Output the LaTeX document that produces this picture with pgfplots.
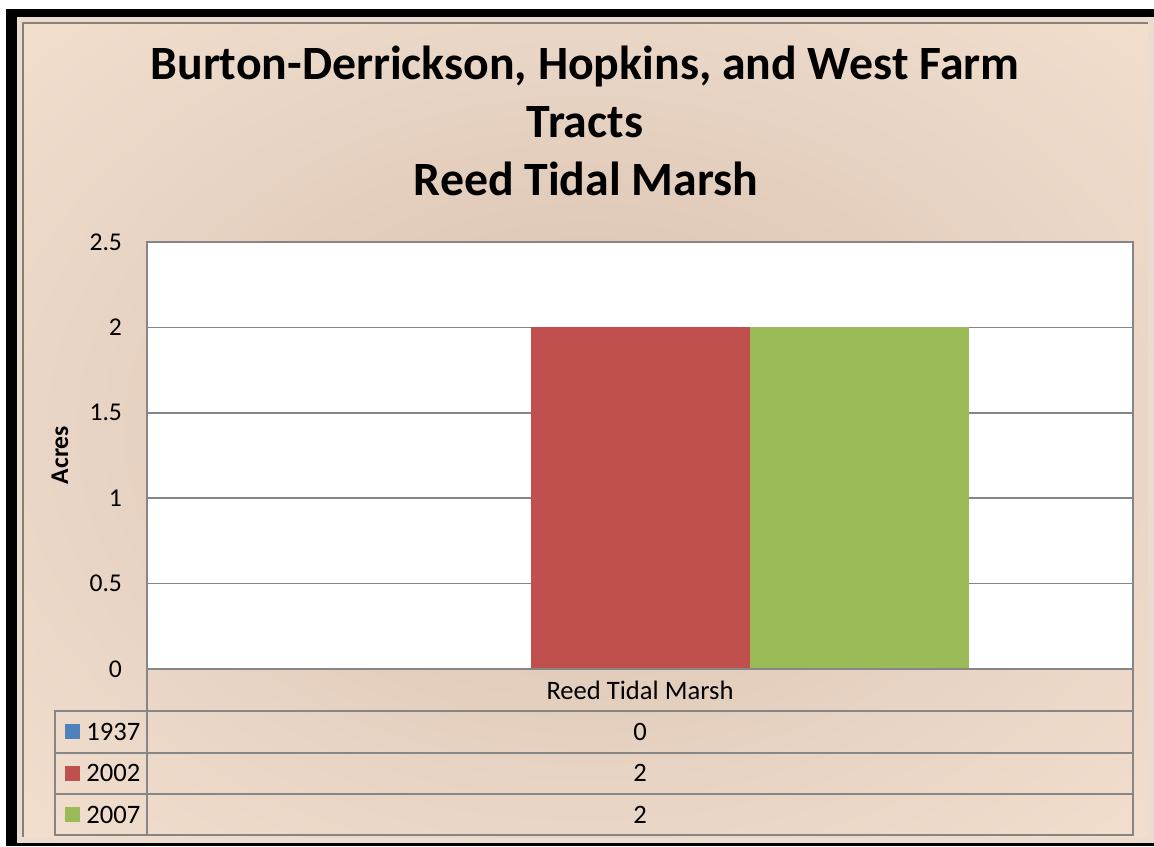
\documentclass[border=0pt]{standalone}
\usepackage{pgfplots}
\pgfplotsset{compat=1.18}
\usepackage{fontspec}
\setmainfont{Carlito}
\definecolor{b1937}{HTML}{4F81BD}
\definecolor{r2002}{HTML}{C0504D}
\definecolor{g2007}{HTML}{9BBB59}
\definecolor{gridgray}{HTML}{868686}
\definecolor{panelout}{HTML}{FBE9D7}
\definecolor{panelmid}{HTML}{E8D4C4}
\definecolor{panelin}{HTML}{D6BDAC}
\definecolor{bevel}{HTML}{EBDCCF}
\pgfdeclareradialshading{panel}{\pgfpoint{0bp}{0bp}}{color(0bp)=(panelin); color(22bp)=(panelmid); color(50bp)=(panelout); color(100bp)=(panelout)}
\newcommand\tfont{\fontsize{12.8}{15}\selectfont}
\newcommand\dfont{\fontsize{13.3}{15}\selectfont}
\begin{document}
\begin{tikzpicture}
\begin{scope}[x=0.5pt,y=-0.5pt]
\useasboundingbox (0,0) rectangle (1154,846);
\fill[white] (0,0) rectangle (1154,846);
\fill[black] (6,9) rectangle (1154,846);
\fill[bevel] (17,17) rectangle (1154,843);
\shade[shading=panel] (24,24) rectangle (1148,837);
\draw[gray!80!brown, line width=1.2pt] (23,837) -- (23,23) -- (1148,23);
\node[font=\bfseries\fontsize{23.9}{29}\selectfont, anchor=base] at (585,79) {Burton-Derrickson, Hopkins, and West Farm};
\node[font=\bfseries\fontsize{23.9}{29}\selectfont, anchor=base] at (585,137) {Tracts};
\node[font=\bfseries\fontsize{23.9}{29}\selectfont, anchor=base] at (586,195) {Reed Tidal Marsh};
\node[rotate=90, font=\bfseries\tfont] at (60,455) {Acres};
\end{scope}
\begin{axis}[at={(73.5pt,-334.5pt)}, anchor=south west, scale only axis,
  width=493pt, height=213.5pt,
  xmin=-0.5, xmax=0.5, ymin=0, ymax=2.5,
  ytick={0,0.5,1,1.5,2,2.5}, xtick=\empty,
  ymajorgrids, grid style={gridgray, line width=0.75pt},
  axis line style={gridgray, line width=0.75pt},
  major tick length=0pt,
  tick label style={font=\tfont},
  yticklabel style={xshift=-9pt},
  /pgf/number format/assume math mode=true,
  ybar=0pt, bar width=109.5pt,
  axis background/.style={fill=white}]
\addplot[fill=b1937, draw=none] coordinates {(0,0)};
\addplot[fill=r2002, draw=none] coordinates {(0,2)};
\addplot[fill=g2007, draw=none] coordinates {(0,2)};
\end{axis}
\begin{scope}[x=0.5pt,y=-0.5pt]
\draw[gridgray, line width=1pt] (147,669) -- (1133,669) -- (1133,835) -- (55,835) -- (55,711) -- (1133,711);
\draw[gridgray, line width=1pt] (147,669) -- (147,835);
\draw[gridgray, line width=1pt] (55,753) -- (1133,753);
\draw[gridgray, line width=1pt] (55,794) -- (1133,794);
\node[font=\dfont] at (640,690) {Reed Tidal Marsh};
\fill[b1937] (65,724) rectangle (80,739);
\fill[r2002] (65,766) rectangle (80,781);
\fill[g2007] (65,807) rectangle (80,822);
\node[font=\dfont, anchor=west, inner sep=0pt] at (86,732) {1937};
\node[font=\dfont, anchor=west, inner sep=0pt] at (86,773) {2002};
\node[font=\dfont, anchor=west, inner sep=0pt] at (86,815) {2007};
\node[font=\dfont] at (640,732) {0};
\node[font=\dfont] at (640,773) {2};
\node[font=\dfont] at (640,815) {2};
\end{scope}
\end{tikzpicture}
\end{document}
